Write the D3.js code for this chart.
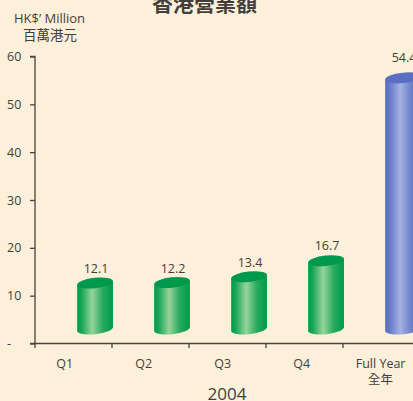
<!DOCTYPE html>
<html>
<head>
<meta charset="utf-8">
<script src="https://cdn.jsdelivr.net/npm/d3@7"></script>
<style>
  html, body { margin: 0; padding: 0; background: #fdf0da; }
  svg { display: block; }
  text { font-family: "Open Sans", "Noto Sans CJK TC", sans-serif; fill: #433e3a; }
  .cjk { font-family: "Noto Sans CJK TC", "Noto Sans", sans-serif; }
</style>
</head>
<body>
<script>
const categories = ["Q1", "Q2", "Q3", "Q4", "Full Year"];
const subLabels = ["", "", "", "", "全年"];
const values = [12.1, 12.2, 13.4, 16.7, 54.4];
const valueLabels = ["12.1", "12.2", "13.4", "16.7", "54.4"];
const yTicks = [0, 10, 20, 30, 40, 50, 60];
const yTickLabels = ["-", "10", "20", "30", "40", "50", "60"];
const kinds = ["q", "q", "q", "q", "total"];
const title = "香港營業額";
const unitEn = "HK$\u2019 Million";
const unitZh = "百萬港元";
const xTitle = "2004";

const W = 413, H = 401;
const svg = d3.select("body").append("svg").attr("width", W).attr("height", H);
svg.append("rect").attr("width", W).attr("height", H).attr("fill", "#fdf0da");

const defs = svg.append("defs");
function grad(id, stops) {
  const g = defs.append("linearGradient").attr("id", id)
    .attr("x1", "0%").attr("x2", "100%").attr("y1", "0%").attr("y2", "0%");
  stops.forEach(s => g.append("stop").attr("offset", s[0]).attr("stop-color", s[1]));
}
grad("gq", [[0, "#009c4c"], [0.12, "#16a457"], [0.42, "#96d49a"], [0.72, "#26aa5e"], [1, "#00994a"]]);
grad("gt", [[0, "#5a6ec0"], [0.12, "#6579c5"], [0.42, "#a6b2e3"], [0.72, "#6d80c9"], [1, "#5b6fc1"]]);
const topColor = { q: "#00984a", total: "#5a6fc2" };
const fillId = { q: "url(#gq)", total: "url(#gt)" };

// axis scale
const y = d3.scaleLinear().domain([0, 60]).range([343.5, 56.5]);
// 3D perspective: cylinder tops and labels drawn on slightly shifted planes
const yTop = d3.scaleLinear().domain([0, 60]).range([341.7, 50.7]);
const yLab = d3.scaleLinear().domain([0, 60]).range([333.4, 33.9]);
const x = d3.scaleBand().domain(categories).range([35, 420]).padding(0);
const xl = d3.scalePoint().domain(categories).range([64.6, 380.6]);

const axisColor = "#4a433e";

// Y axis
const yAxis = svg.append("g").attr("transform", "translate(35,0)")
  .call(d3.axisLeft(y).tickValues(yTicks).tickSize(5).tickFormat((d, i) => yTickLabels[i]));
yAxis.select(".domain").attr("stroke", axisColor).attr("stroke-width", 1.3).attr("d", `M-5,${y(60)}H0V${y(0)}`);
yAxis.selectAll(".tick line").attr("stroke", axisColor).attr("stroke-width", 1.3);
yAxis.selectAll(".tick text").attr("x", -28).attr("text-anchor", "start")
  .style("font-size", "12.5px").style("font-family", "'Open Sans', sans-serif").attr("fill", "#433e3a");

// X axis line and ticks
svg.append("line").attr("x1", 30).attr("x2", W).attr("y1", y(0)).attr("y2", y(0))
  .attr("stroke", axisColor).attr("stroke-width", 1.6);
svg.selectAll(".xt").data(categories).enter().append("line")
  .attr("x1", d => x(d)).attr("x2", d => x(d))
  .attr("y1", y(0)).attr("y2", y(0) + 4.5)
  .attr("stroke", axisColor).attr("stroke-width", 1.3);

// Cylinders
const rx = 18, ry = 5.2, ang = -6;
const s = Math.sin(ang * Math.PI / 180), c = Math.cos(ang * Math.PI / 180);
const baseY = y(0) - 14.5;
categories.forEach((cat, i) => {
  const cx = x(cat) + x.bandwidth() * 0.78;
  const yt = yTop(values[i]);
  const yb = baseY;
  const k = kinds[i];
  const path = `M${cx - rx * c},${yt - rx * s} L${cx - rx * c},${yb - rx * s} ` +
    `A${rx},${ry} ${ang} 0 0 ${cx + rx * c},${yb + rx * s} L${cx + rx * c},${yt + rx * s} Z`;
  svg.append("path").attr("d", path).attr("fill", fillId[k]);
  svg.append("ellipse").attr("cx", cx).attr("cy", yt).attr("rx", rx).attr("ry", ry)
    .attr("transform", `rotate(${ang} ${cx} ${yt})`).attr("fill", topColor[k]);
  svg.append("text").attr("x", cx + 1).attr("y", yLab(values[i]))
    .attr("text-anchor", "middle").style("font-size", "12.5px").text(valueLabels[i]);
});

// X labels
svg.selectAll(".xl").data(categories).enter().append("text")
  .attr("x", d => xl(d)).attr("y", 367.5).attr("text-anchor", "middle")
  .style("font-size", "12.5px").text(d => d);
svg.selectAll(".xs").data(categories.filter((d, i) => subLabels[i])).enter().append("text")
  .attr("class", "cjk")
  .attr("x", d => xl(d)).attr("y", 383.5).attr("text-anchor", "middle")
  .style("font-size", "12.5px").text(d => subLabels[categories.indexOf(d)]);

svg.append("text").attr("x", 227).attr("y", 399.5).attr("text-anchor", "middle")
  .style("font-size", "17px").text(xTitle);

// Title and unit
svg.append("text").attr("class", "cjk").attr("x", 204.5).attr("y", 11).attr("text-anchor", "middle")
  .style("font-size", "21px").style("font-weight", "700").text(title);
svg.append("text").attr("x", 49.5).attr("y", 23).attr("text-anchor", "middle")
  .style("font-size", "13px").text(unitEn);
svg.append("text").attr("class", "cjk").attr("x", 50).attr("y", 40).attr("text-anchor", "middle")
  .style("font-size", "13.5px").text(unitZh);
</script>
</body>
</html>
